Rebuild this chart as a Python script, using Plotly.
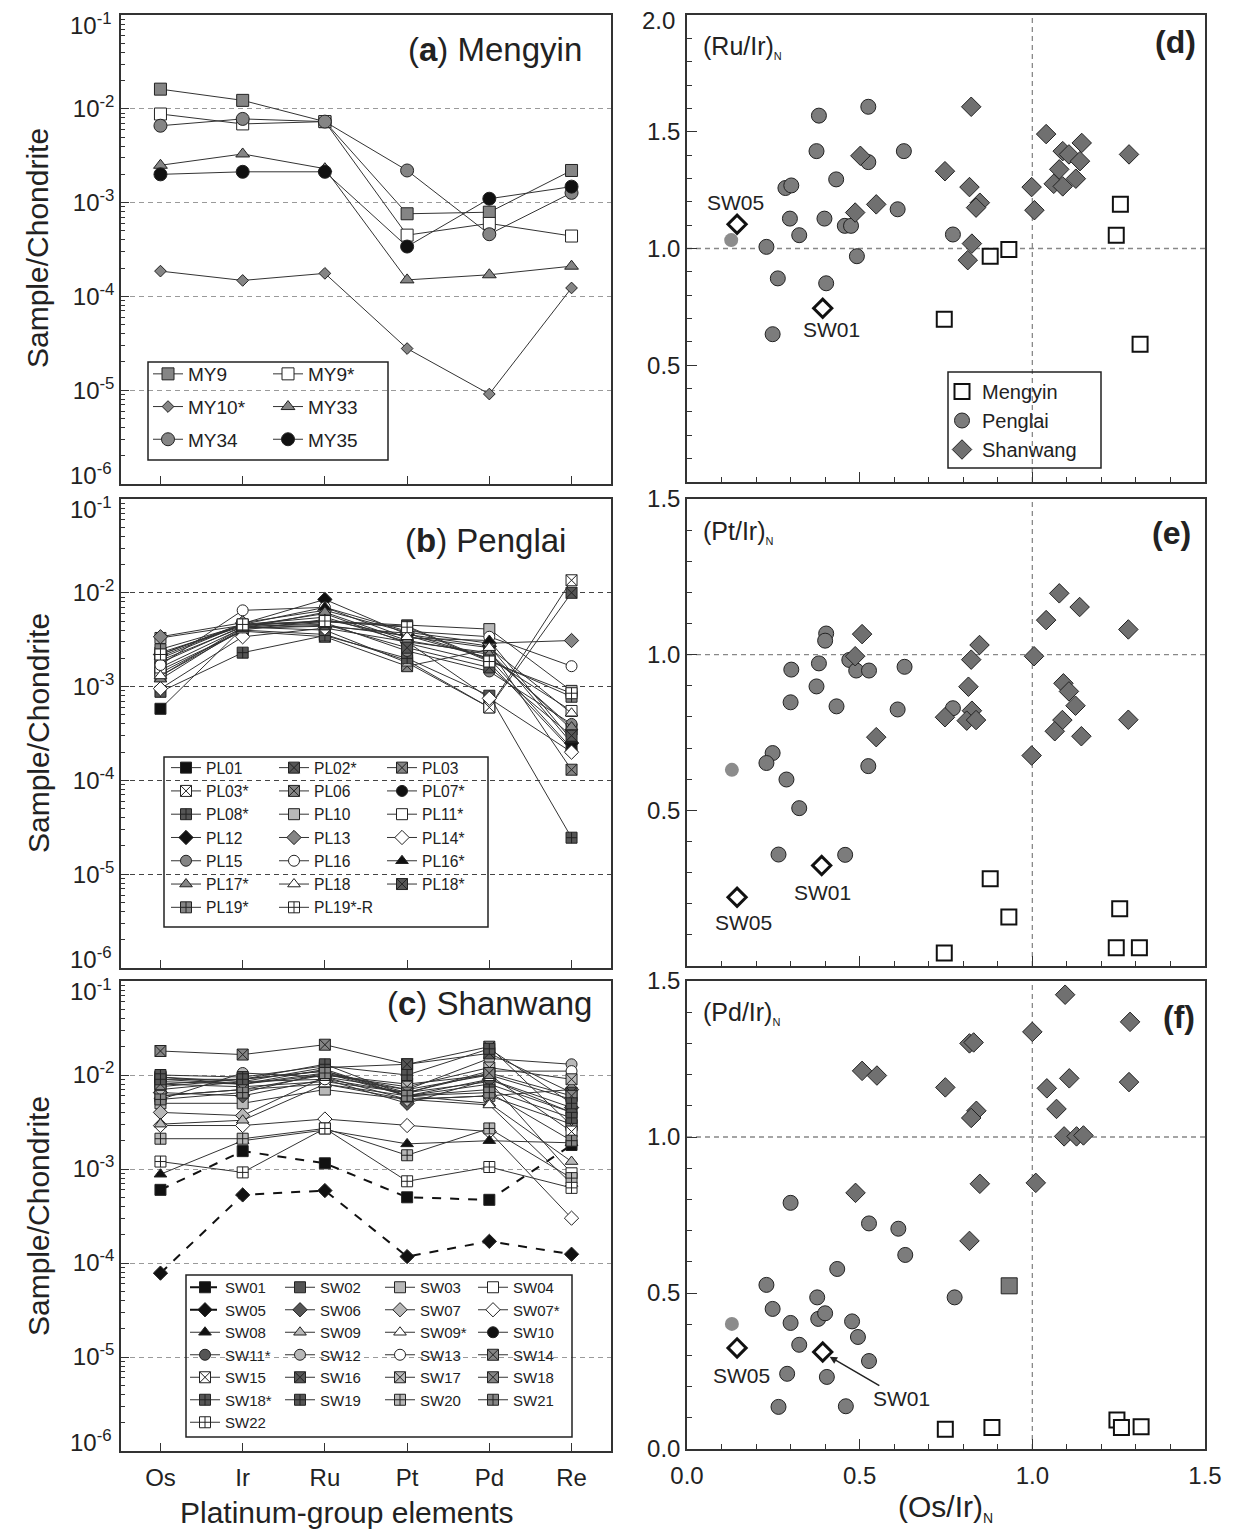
import plotly.graph_objects as go

# The page body has an 8px margin: the figure is sized/positioned to compensate.
OFF = 8
W, H = 1234 - OFF, 1535 - OFF
FONT = "Liberation Sans, Arial, sans-serif"

def px(x):
    return (x - OFF) / W

def py(y):
    return 1 - (y - OFF) / H

ELEMENTS = ["Os", "Ir", "Ru", "Pt", "Pd", "Re"]

# ---------------- (a) Mengyin ----------------
MY_NAMES = ["MY9", "MY9*", "MY10*", "MY33", "MY34", "MY35"]
MY9 = [1.62e-2, 1.23e-2, 7.3e-3, 7.6e-4, 7.9e-4, 2.2e-3]
MY9S = [8.8e-3, 6.9e-3, 7.3e-3, 4.5e-4, 6.0e-4, 4.4e-4]
MY10S = [1.86e-4, 1.48e-4, 1.76e-4, 2.78e-5, 9.1e-6, 1.23e-4]
MY33 = [2.5e-3, 3.3e-3, 2.3e-3, 1.5e-4, 1.7e-4, 2.1e-4]
MY34 = [6.6e-3, 7.8e-3, 7.3e-3, 2.2e-3, 4.6e-4, 1.27e-3]
MY35 = [2.0e-3, 2.13e-3, 2.13e-3, 3.4e-4, 1.1e-3, 1.48e-3]
MY_VALUES = [MY9, MY9S, MY10S, MY33, MY34, MY35]

# ---------------- (b) Penglai ----------------
PL_NAMES = ["PL01", "PL02*", "PL03", "PL03*", "PL06", "PL07*", "PL08*", "PL10", "PL11*",
            "PL12", "PL13", "PL14*", "PL15", "PL16", "PL16*", "PL17*", "PL18", "PL18*",
            "PL19*", "PL19*-R"]
PL_VALUES = [
    [5.8e-4, 4.2e-3, 4.5e-3, 3.5e-3, 2.0e-3, 2.2e-4],
    [1.3e-3, 4.3e-3, 4.0e-3, 1.8e-3, 6.0e-4, 1.0e-2],
    [1.5e-3, 3.9e-3, 3.4e-3, 1.65e-3, 2.5e-3, 1.3e-4],
    [1.4e-3, 4.0e-3, 3.6e-3, 1.9e-3, 6.0e-4, 1.36e-2],
    [2.0e-3, 4.6e-3, 5.5e-3, 3.0e-3, 2.3e-3, 3.5e-4],
    [1.8e-3, 4.4e-3, 6.0e-3, 2.9e-3, 1.8e-3, 2.1e-4],
    [8.8e-4, 2.3e-3, 3.5e-3, 2.0e-3, 8.0e-4, 2.45e-5],
    [3.3e-3, 4.5e-3, 5.0e-3, 4.5e-3, 4.1e-3, 9.0e-4],
    [1.6e-3, 4.2e-3, 4.4e-3, 3.7e-3, 2.0e-3, 5.5e-4],
    [2.2e-3, 4.7e-3, 8.5e-3, 3.6e-3, 2.7e-3, 2.5e-4],
    [3.4e-3, 4.8e-3, 6.5e-3, 3.8e-3, 2.9e-3, 3.1e-3],
    [9.5e-4, 3.4e-3, 4.2e-3, 3.0e-3, 7.5e-4, 2.0e-4],
    [1.9e-3, 4.3e-3, 4.8e-3, 2.4e-3, 1.45e-3, 4.0e-4],
    [1.7e-3, 6.5e-3, 7.0e-3, 3.9e-3, 3.4e-3, 1.65e-3],
    [2.1e-3, 4.6e-3, 7.0e-3, 3.3e-3, 3.1e-3, 2.7e-4],
    [1.2e-3, 4.2e-3, 6.2e-3, 3.1e-3, 2.2e-3, 3.7e-4],
    [1.3e-3, 4.0e-3, 5.2e-3, 3.4e-3, 2.6e-3, 5.2e-4],
    [2.3e-3, 4.4e-3, 4.6e-3, 2.6e-3, 1.6e-3, 3.0e-4],
    [2.5e-3, 4.5e-3, 4.9e-3, 4.4e-3, 1.9e-3, 7.8e-4],
    [2.2e-3, 4.6e-3, 5.0e-3, 4.3e-3, 1.85e-3, 8.5e-4],
]

# ---------------- (c) Shanwang ----------------
SW_NAMES = ["SW01", "SW02", "SW03", "SW04", "SW05", "SW06", "SW07", "SW07*", "SW08", "SW09",
            "SW09*", "SW10", "SW11*", "SW12", "SW13", "SW14", "SW15", "SW16", "SW17", "SW18",
            "SW18*", "SW19", "SW20", "SW21", "SW22"]
SW_VALUES = [
    [6.0e-4, 1.55e-3, 1.15e-3, 5.0e-4, 4.7e-4, 1.8e-3],
    [9.5e-3, 8.0e-3, 1.15e-2, 6.0e-3, 8.0e-3, 4.0e-3],
    [5.0e-3, 5.0e-3, 7.0e-3, 5.5e-3, 6.0e-3, 3.0e-3],
    [8.0e-3, 7.5e-3, 8.5e-3, 6.5e-3, 8.5e-3, 9.0e-4],
    [7.8e-5, 5.3e-4, 5.9e-4, 1.17e-4, 1.7e-4, 1.24e-4],
    [6.5e-3, 6.0e-3, 9.0e-3, 5.0e-3, 9.0e-3, 4.5e-3],
    [4.0e-3, 3.7e-3, 9.5e-3, 5.5e-3, 6.0e-3, 7.0e-3],
    [2.9e-3, 2.9e-3, 3.4e-3, 2.9e-3, 2.5e-3, 3.0e-4],
    [8.8e-4, 2.0e-3, 2.6e-3, 1.85e-3, 2.0e-3, 1.9e-3],
    [3.0e-3, 3.3e-3, 8.0e-3, 6.0e-3, 5.0e-3, 1.2e-3],
    [6.0e-3, 7.0e-3, 8.0e-3, 5.5e-3, 4.8e-3, 7.0e-4],
    [9.0e-3, 8.0e-3, 1.05e-2, 7.0e-3, 1.0e-2, 5.5e-3],
    [7.5e-3, 9.0e-3, 1.1e-2, 6.0e-3, 9.0e-3, 4.0e-3],
    [5.5e-3, 1.05e-2, 9.5e-3, 7.0e-3, 1.5e-2, 1.3e-2],
    [7.0e-3, 8.5e-3, 9.0e-3, 6.5e-3, 1.1e-2, 1.1e-2],
    [1.8e-2, 1.65e-2, 2.1e-2, 1.3e-2, 2.0e-2, 2.9e-3],
    [8.5e-3, 8.0e-3, 1.0e-2, 8.0e-3, 1.0e-2, 2.5e-3],
    [9.5e-3, 8.5e-3, 1.2e-2, 1.3e-2, 1.7e-2, 6.5e-3],
    [6.0e-3, 7.0e-3, 1.0e-2, 7.5e-3, 1.2e-2, 9.0e-3],
    [8.0e-3, 9.0e-3, 1.1e-2, 6.5e-3, 1.05e-2, 6.0e-3],
    [1.0e-2, 9.5e-3, 1.25e-2, 1.0e-2, 1.9e-2, 5.0e-3],
    [9.0e-3, 9.0e-3, 1.3e-2, 6.0e-3, 7.0e-3, 3.5e-3],
    [2.1e-3, 2.1e-3, 2.7e-3, 1.4e-3, 2.7e-3, 8.0e-4],
    [5.5e-3, 6.5e-3, 1.05e-2, 6.0e-3, 6.5e-3, 2.0e-3],
    [1.2e-3, 9.2e-4, 2.7e-3, 7.4e-4, 1.05e-3, 6.3e-4],
]

# ---------------- (d) (Ru/Ir)N vs (Os/Ir)N ----------------
D_PEN_X = [0.382, 0.525, 0.375, 0.628, 0.525, 0.432, 0.285, 0.302, 0.61, 0.298, 0.398,
           0.325, 0.457, 0.475, 0.23, 0.77, 0.492, 0.263, 0.403, 0.248]
D_PEN_Y = [1.569, 1.607, 1.417, 1.417, 1.37, 1.296, 1.259, 1.27, 1.168, 1.128, 1.128,
           1.057, 1.097, 1.097, 1.007, 1.06, 0.967, 0.872, 0.851, 0.633]
D_SHW_X = [0.823, 1.04, 1.143, 1.088, 1.106, 1.138, 1.28, 1.078, 1.126, 1.062, 1.088, 0.998,
           1.006, 0.747, 0.818, 0.848, 0.837, 0.502, 0.548, 0.487, 0.825, 0.813]
D_SHW_Y = [1.607, 1.49, 1.452, 1.417, 1.403, 1.374, 1.403, 1.339, 1.299, 1.277, 1.266, 1.263,
           1.164, 1.331, 1.263, 1.196, 1.175, 1.397, 1.189, 1.154, 1.021, 0.95]
D_MY_X = [1.255, 1.243, 0.932, 0.878, 0.745, 1.312]
D_MY_Y = [1.189, 1.057, 0.996, 0.967, 0.697, 0.59]
D_PL_EXTRA = ([0.128], [1.036])
D_SW05 = ([0.145], [1.104])
D_SW01 = ([0.393], [0.744])

# ---------------- (e) (Pt/Ir)N vs (Os/Ir)N ----------------
E_PEN_X = [0.403, 0.40, 0.302, 0.382, 0.47, 0.49, 0.527, 0.63, 0.375, 0.30, 0.433, 0.61,
           0.77, 0.248, 0.23, 0.288, 0.325, 0.525, 0.265, 0.458]
E_PEN_Y = [1.068, 1.045, 0.952, 0.972, 0.983, 0.949, 0.949, 0.961, 0.898, 0.847, 0.834,
           0.824, 0.828, 0.684, 0.652, 0.599, 0.507, 0.642, 0.358, 0.357]
E_SHW_X = [1.078, 1.137, 1.04, 1.278, 0.507, 0.847, 0.823, 1.005, 0.487, 0.815, 1.09, 1.106,
           1.125, 0.825, 0.747, 0.81, 0.837, 1.087, 1.278, 1.065, 1.142, 0.548, 0.998]
E_SHW_Y = [1.197, 1.153, 1.111, 1.081, 1.066, 1.031, 0.984, 0.995, 0.995, 0.897, 0.908, 0.882,
           0.836, 0.82, 0.799, 0.788, 0.79, 0.79, 0.791, 0.754, 0.738, 0.735, 0.676]
E_MY_X = [0.878, 0.932, 1.253, 0.745, 1.243, 1.31]
E_MY_Y = [0.280, 0.157, 0.184, 0.042, 0.059, 0.059]
E_PL_EXTRA = ([0.13], [0.63])
E_SW05 = ([0.145], [0.221])
E_SW01 = ([0.39], [0.323])

# ---------------- (f) (Pd/Ir)N vs (Os/Ir)N ----------------
F_PEN_X = [0.30, 0.527, 0.612, 0.632, 0.435, 0.23, 0.775, 0.377, 0.248, 0.30, 0.38, 0.40,
           0.478, 0.495, 0.325, 0.527, 0.29, 0.405, 0.265, 0.46]
F_PEN_Y = [0.789, 0.723, 0.706, 0.622, 0.577, 0.526, 0.486, 0.486, 0.449, 0.404, 0.417,
           0.435, 0.409, 0.359, 0.334, 0.282, 0.241, 0.231, 0.135, 0.137]
F_SHW_X = [1.095, 1.283, 1.0, 0.818, 0.83, 0.507, 0.55, 1.107, 1.28, 0.748, 1.042, 1.07,
           0.838, 0.823, 1.092, 1.128, 1.148, 0.848, 1.01, 0.488, 0.818]
F_SHW_Y = [1.456, 1.369, 1.337, 1.30, 1.303, 1.212, 1.197, 1.188, 1.176, 1.159, 1.156, 1.09,
           1.084, 1.061, 1.002, 1.002, 1.005, 0.85, 0.853, 0.821, 0.667]
F_MY_X = [0.748, 0.883, 1.245, 1.258, 1.315]
F_MY_Y = [0.063, 0.069, 0.093, 0.069, 0.071]
F_GRAY_SQ = ([0.933], [0.523])
F_PL_EXTRA = ([0.13], [0.401])
F_SW05 = ([0.145], [0.324])
F_SW01 = ([0.393], [0.311])

# ---------------- styles ----------------
BLACK = "#111111"
DARK = "#555555"
MID = "#858585"
LIGHT = "#b8b8b8"
WHITE = "#ffffff"
EDGE = "#222222"
LINE = "#333333"

MY_STYLE = [("square", MID, 12), ("square", WHITE, 12), ("diamond", MID, 9),
            ("triangle-up", MID, 12), ("circle", MID, 13), ("circle", BLACK, 13)]
PL_STYLE = [("square", BLACK), ("square-x", DARK), ("square-x", MID), ("square-x", WHITE),
            ("square-x", MID), ("circle", BLACK), ("square-cross", DARK), ("square", LIGHT),
            ("square", WHITE), ("diamond", BLACK), ("diamond", MID), ("diamond", WHITE),
            ("circle", MID), ("circle", WHITE), ("triangle-up", BLACK), ("triangle-up", MID),
            ("triangle-up", WHITE), ("square-x", DARK), ("square-cross", MID),
            ("square-cross", WHITE)]
SW_STYLE = [("square", BLACK), ("square", DARK), ("square", LIGHT), ("square", WHITE),
            ("diamond", BLACK), ("diamond", DARK), ("diamond", LIGHT), ("diamond", WHITE),
            ("triangle-up", BLACK), ("triangle-up", LIGHT), ("triangle-up", WHITE),
            ("circle", BLACK), ("circle", DARK), ("circle", LIGHT), ("circle", WHITE),
            ("square-x", MID), ("square-x", WHITE), ("square-x", DARK), ("square-x", LIGHT),
            ("square-x", MID), ("square-cross", DARK), ("square-cross", DARK),
            ("square-cross", LIGHT), ("square-cross", MID), ("square-cross", WHITE)]

fig = go.Figure()

def legend_name(k):
    return "legend" if k == 1 else f"legend{k}"

# (a)
for i, (name, vals) in enumerate(zip(MY_NAMES, MY_VALUES)):
    sym, col, sz = MY_STYLE[i]
    fig.add_trace(go.Scatter(
        x=ELEMENTS, y=vals, name=name, mode="lines+markers", xaxis="x", yaxis="y",
        line=dict(color=LINE, width=1),
        marker=dict(symbol=sym, color=col, size=sz, line=dict(color=EDGE, width=1)),
        legend=legend_name(1 + i % 2), legendgroup=name))

# (b)
for i, (name, vals) in enumerate(zip(PL_NAMES, PL_VALUES)):
    sym, col = PL_STYLE[i]
    fig.add_trace(go.Scatter(
        x=ELEMENTS, y=vals, name=name, mode="lines+markers", xaxis="x2", yaxis="y2",
        line=dict(color=LINE, width=1),
        marker=dict(symbol=sym, color=col, size=11, line=dict(color=EDGE, width=1)),
        legend=legend_name(3 + i % 3)))

# (c)
for i, (name, vals) in enumerate(zip(SW_NAMES, SW_VALUES)):
    sym, col = SW_STYLE[i]
    dashed = name in ("SW01", "SW05")
    fig.add_trace(go.Scatter(
        x=ELEMENTS, y=vals, name=name, mode="lines+markers", xaxis="x3", yaxis="y3",
        line=dict(color=BLACK if dashed else LINE, width=2 if dashed else 1,
                  dash="dash" if dashed else "solid"),
        marker=dict(symbol=sym, color=col, size=11, line=dict(color=EDGE, width=1)),
        legend=legend_name(6 + i % 4)))

# scatter panels
PEN_FILL = "#7c7c7c"
SHW_FILL = "#707070"
panels = [
    ("x4", "y4", D_MY_X, D_MY_Y, D_PEN_X, D_PEN_Y, D_SHW_X, D_SHW_Y, D_PL_EXTRA, D_SW05, D_SW01, True),
    ("x5", "y5", E_MY_X, E_MY_Y, E_PEN_X, E_PEN_Y, E_SHW_X, E_SHW_Y, E_PL_EXTRA, E_SW05, E_SW01, False),
    ("x6", "y6", F_MY_X, F_MY_Y, F_PEN_X, F_PEN_Y, F_SHW_X, F_SHW_Y, F_PL_EXTRA, F_SW05, F_SW01, False),
]
for xa, ya, mx, my, pxs, pys, sx, sy, extra, sw05, sw01, show in panels:
    fig.add_trace(go.Scatter(x=mx, y=my, mode="markers", name="Mengyin", xaxis=xa, yaxis=ya,
                             marker=dict(symbol="square", size=15, color=WHITE,
                                         line=dict(color=BLACK, width=2)),
                             showlegend=show, legend="legend10"))
    fig.add_trace(go.Scatter(x=pxs, y=pys, mode="markers", name="Penglai", xaxis=xa, yaxis=ya,
                             marker=dict(symbol="circle", size=15, color=PEN_FILL,
                                         line=dict(color=EDGE, width=1)),
                             showlegend=show, legend="legend10"))
    fig.add_trace(go.Scatter(x=sx, y=sy, mode="markers", name="Shanwang", xaxis=xa, yaxis=ya,
                             marker=dict(symbol="diamond", size=15, color=SHW_FILL,
                                         line=dict(color=EDGE, width=1)),
                             showlegend=show, legend="legend10"))
    fig.add_trace(go.Scatter(x=extra[0], y=extra[1], mode="markers", xaxis=xa, yaxis=ya,
                             marker=dict(symbol="circle", size=14, color="#8c8c8c"),
                             showlegend=False))
    fig.add_trace(go.Scatter(x=sw05[0] + sw01[0], y=sw05[1] + sw01[1], mode="markers",
                             xaxis=xa, yaxis=ya,
                             marker=dict(symbol="diamond", size=14, color=WHITE,
                                         line=dict(color=BLACK, width=3)),
                             showlegend=False))

fig.add_trace(go.Scatter(x=F_GRAY_SQ[0], y=F_GRAY_SQ[1], mode="markers", xaxis="x6", yaxis="y6",
                         marker=dict(symbol="square", size=16, color="#7a7a7a",
                                     line=dict(color=EDGE, width=1)),
                         showlegend=False))

# ---------------- axes ----------------
ROWS = [(15, 484), (499, 968), (981, 1451)]
LEFT = (121, 611)
RIGHT = (687, 1205)

decades = [1e-6, 1e-5, 1e-4, 1e-3, 1e-2, 1e-1]
decade_txt = [""] + [f"10<sup>{e}</sup>" for e in range(-5, -1)] + [""]
minor_vals = [m * 10.0 ** e for e in range(-6, -1) for m in range(2, 10)]

axis_common = dict(showline=True, mirror=True, linecolor="#333333", linewidth=1.5,
                   ticks="inside", tickcolor="#333333", zeroline=False, automargin=False,
                   tickfont=dict(family=FONT, size=24, color="#222222"))

layout = dict(width=W, height=H, margin=dict(l=0, r=0, t=0, b=0, autoexpand=False),
              plot_bgcolor="white", paper_bgcolor="white",
              font=dict(family=FONT, color="#222222"))

for i, (top, bot) in enumerate(ROWS):
    k = i + 1
    gridcol = "#444444" if k == 2 else "#9a9a9a"
    layout[f"xaxis{k}"] = dict(axis_common, domain=[px(LEFT[0]), px(LEFT[1])], anchor=f"y{k}",
                               type="category", categoryorder="array", categoryarray=ELEMENTS,
                               range=[-0.48, 5.48], ticklen=8, showgrid=False,
                               showticklabels=(k == 3), ticklabelstandoff=4)
    layout[f"yaxis{k}"] = dict(axis_common, domain=[py(bot), py(top)], anchor=f"x{k}",
                               type="log", range=[-6, -1], tickvals=decades, ticktext=decade_txt,
                               ticklen=8, showgrid=True, gridcolor=gridcol,
                               griddash="5px,4px", gridwidth=1.2,
                               minor=dict(tickvals=minor_vals, ticks="inside", ticklen=4,
                                          tickcolor="#333333", showgrid=False))
    kr = i + 4
    yr = [0, 2.0] if i == 0 else [0, 1.5]
    ytv = [0.5, 1.0, 1.5] if i < 2 else [0.0, 0.5, 1.0, 1.5]
    rb = bot - 2
    layout[f"xaxis{kr}"] = dict(axis_common, domain=[px(RIGHT[0]), px(RIGHT[1])], anchor=f"y{kr}",
                                range=[0, 1.5], tickvals=[0.0, 0.5, 1.0, 1.5],
                                ticktext=["0.0", "0.5", "1.0", "1.5"], ticklen=10,
                                showgrid=False, showticklabels=(i == 2), ticklabelstandoff=4,
                                minor=dict(dtick=0.1, ticks="inside", ticklen=5,
                                           tickcolor="#333333", showgrid=False))
    layout[f"yaxis{kr}"] = dict(axis_common, domain=[py(rb), py(top)], anchor=f"x{kr}",
                                range=yr, tickvals=ytv, ticktext=[f"{v:.1f}" for v in ytv],
                                ticklen=10, showgrid=False,
                                minor=dict(dtick=0.1, ticks="inside", ticklen=5,
                                           tickcolor="#333333", showgrid=False))

# ---------------- legends ----------------
def legend_box(x0, y0, size, gap=0):
    return dict(x=px(x0), y=py(y0), xanchor="left", yanchor="top", bgcolor="rgba(0,0,0,0)",
                borderwidth=0, font=dict(family=FONT, size=size, color="#222222"),
                tracegroupgap=gap, itemwidth=30)

leg_pos = {1: (148, 355, 19, 5), 2: (268, 355, 19, 5),
           3: (166, 751, 15.6, 0), 4: (274, 751, 15.6, 0), 5: (382, 751, 15.6, 0),
           6: (185, 1271, 15, 0), 7: (280, 1271, 15, 0), 8: (380, 1271, 15, 0),
           9: (473, 1271, 15, 0), 10: (942, 372, 20, 0)}
for k, (x0, y0, s, g) in leg_pos.items():
    layout[legend_name(k)] = legend_box(x0, y0, s, g)

shapes = []
for (x0, y0, x1, y1) in [(148, 362, 388, 460), (164, 757, 488, 927), (186, 1275, 572, 1437),
                         (948, 372, 1101, 468)]:
    shapes.append(dict(type="rect", xref="paper", yref="paper", x0=px(x0), x1=px(x1),
                       y0=py(y1), y1=py(y0), line=dict(color="#222222", width=1.5),
                       fillcolor="rgba(0,0,0,0)", layer="above"))
for kr in (4, 5, 6):
    shapes.append(dict(type="line", xref=f"x{kr}", yref=f"y{kr} domain", x0=1.0, x1=1.0,
                       y0=0, y1=1, line=dict(color="#888888", width=1.3, dash="5px,4px"),
                       layer="below"))
    shapes.append(dict(type="line", xref=f"x{kr} domain", yref=f"y{kr}", x0=0, x1=1,
                       y0=1.0, y1=1.0, line=dict(color="#888888", width=1.3, dash="5px,4px"),
                       layer="below"))
layout["shapes"] = shapes

# ---------------- annotations ----------------
ann = []

def text(x, y, s, size, xanchor="center", angle=0, yanchor="middle"):
    ann.append(dict(x=px(x), y=py(y), xref="paper", yref="paper", text=s, showarrow=False,
                    xanchor=xanchor, yanchor=yanchor, textangle=angle,
                    font=dict(family=FONT, size=size, color="#222222")))

# end-of-axis labels (nudged inside like the original)
for top, bot in ROWS:
    text(114, top + 9, "10<sup>-1</sup>", 24, xanchor="right")
    text(114, bot - 10, "10<sup>-6</sup>", 24, xanchor="right")
text(677, 20, "2.0", 24, xanchor="right")

text(584, 50, "(<b>a</b>) Mengyin", 33, xanchor="right")
text(568, 540, "(<b>b</b>) Penglai", 33, xanchor="right")
text(594, 1003, "(<b>c</b>) Shanwang", 33, xanchor="right")
for yc in (248, 733, 1216):
    text(38, yc, "Sample/Chondrite", 30, angle=-90)
text(347, 1512, "Platinum-group elements", 30)
text(945, 1508, "(Os/Ir)<sub><span style='font-size:14px'>N</span></sub>", 30)

text(1198, 42, "<b>(d)</b>", 32, xanchor="right")
text(1193, 533, "<b>(e)</b>", 32, xanchor="right")
text(1197, 1017, "<b>(f)</b>", 32, xanchor="right")
text(701, 47, "(Ru/Ir)<sub><span style='font-size:11px'>N</span></sub>", 25, xanchor="left")
text(701, 532, "(Pt/Ir)<sub><span style='font-size:11px'>N</span></sub>", 25, xanchor="left")
text(701, 1013, "(Pd/Ir)<sub><span style='font-size:11px'>N</span></sub>", 25, xanchor="left")

text(735, 202, "SW05", 21)
text(831, 329, "SW01", 21)
text(822, 892, "SW01", 21)
text(743, 922, "SW05", 21)
text(741, 1375, "SW05", 21)
ann.append(dict(x=F_SW01[0][0] + 0.02, y=F_SW01[1][0] - 0.015, xref="x6", yref="y6",
                text="SW01", showarrow=True, arrowhead=2, arrowsize=1, arrowwidth=1.5,
                arrowcolor="#222222", ax=72, ay=42,
                font=dict(family=FONT, size=21, color="#222222")))
layout["annotations"] = ann

fig.update_layout(**layout)
fig.write_html("out.html")
